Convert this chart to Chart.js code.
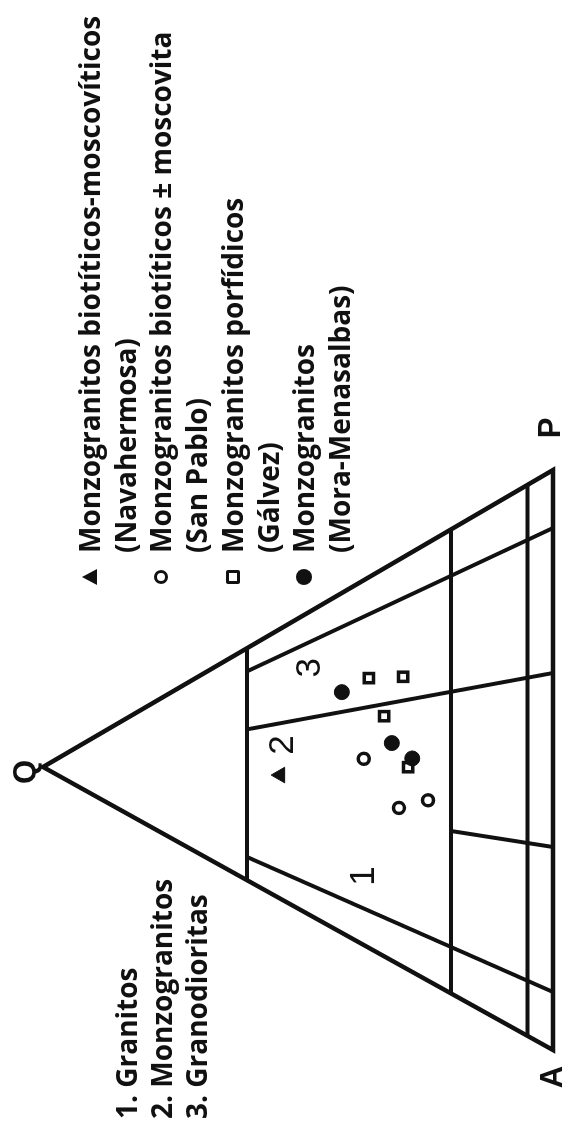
<!DOCTYPE html>
<html lang="es">
<head>
<meta charset="utf-8">
<title>Diagrama QAP</title>
<script src="https://cdn.jsdelivr.net/npm/chart.js@4.4.1/dist/chart.umd.min.js"></script>
<style>
    html, body {
        margin: 0;
        padding: 0;
        width: 568px;
        height: 1129px;
        overflow: hidden;
        background: #fff;
    }
    /* the diagram is laid out landscape and turned a quarter turn */
    #stage {
        position: absolute;
        left: 0;
        top: 0;
        width: 1129px;
        height: 568px;
        transform-origin: 0 0;
        transform: translateY(1129px) rotate(-90deg);
        color: #111;
        font-family: "Open Sans", "Noto Sans", sans-serif;
        font-weight: 700;
    }
    #qapChart {
        position: absolute;
        left: 0;
        top: 0;
    }
    .legend {
        position: absolute;
        left: 576px;
        top: 72px;
        font-size: 28px;
        line-height: 35.7px;
        white-space: nowrap;
    }
    .legend .entry {
        position: relative;
    }
    .legend .mark {
        position: absolute;
        box-sizing: border-box;
    }
    .mark.tri {
        left: -32px;
        top: 10px;
        width: 16px;
        height: 15px;
        background: #111;
        clip-path: polygon(50% 0, 100% 100%, 0 100%);
    }
    .mark.ring {
        left: -31px;
        top: 11px;
        width: 14px;
        height: 14px;
        border: 3.5px solid #111;
        border-radius: 50%;
    }
    .mark.box {
        left: -31px;
        top: 11px;
        width: 14px;
        height: 14px;
        border: 3.5px solid #111;
        border-radius: 2px;
    }
    .mark.dot {
        left: -32px;
        top: 10px;
        width: 16px;
        height: 16px;
        background: #111;
        border-radius: 50%;
    }
    .fields {
        position: absolute;
        left: 10px;
        top: 109px;
        font-size: 28px;
        line-height: 35px;
        white-space: nowrap;
    }
</style>
</head>
<body>
<div id="stage">
    <canvas id="qapChart" width="1129" height="568"></canvas>

    <div class="legend">
        <div class="entry"><span class="mark tri"></span>Monzogranitos biotíticos-moscovíticos<br>(Navahermosa)</div>
        <div class="entry"><span class="mark ring"></span>Monzogranitos biotíticos ± moscovita<br>(San Pablo)</div>
        <div class="entry"><span class="mark box"></span>Monzogranitos porfídicos<br>(Gálvez)</div>
        <div class="entry"><span class="mark dot"></span>Monzogranitos<br>(Mora-Menasalbas)</div>
    </div>

    <div class="fields">
        1. Granitos<br>
        2. Monzogranitos<br>
        3. Granodioritas
    </div>
</div>

<script>
// modal compositions, [Q, A, P] in %
const navahermosa = [[53.5, 25.2, 21.3]];
const sanPablo = [[37.1, 30.8, 32.1], [30.2, 42.8, 27.0], [24.5, 44.4, 31.1]];
const galvez = [[36.1, 17.4, 46.5], [29.4, 20.6, 50.0], [33.1, 25.5, 41.4], [28.4, 36.7, 34.9]];
const moraMenasalbas = [[41.4, 17.1, 41.5], [31.6, 30.9, 37.5], [27.6, 35.6, 36.8]];

// Streckeisen field boundaries
const qLevels = [60, 20, 5];             // Q % lines parallel to A-P
const apRatios = [10, 35, 65, 90];       // 100*P/(A+P) lines
const apRatioTop = [60, 20, 60, 60];     // Q % where each ratio line starts

// where the Q apex sits along the A-P base (0 = A, 100 = P)
const apexX = 48.8;

function toXY(qap) {
    const sum = qap[0] + qap[1] + qap[2];
    const q = qap[0] / sum * 100;
    const p = qap[2] / sum * 100;
    return { x: p + q * apexX / 100, y: q };
}

function ratioPoint(ratio, q) {
    const rest = 100 - q;
    return toXY([q, rest * (1 - ratio / 100), rest * ratio / 100]);
}

function lineSet(points, width) {
    return {
        type: 'scatter',
        data: points,
        showLine: true,
        borderColor: '#111',
        borderWidth: width,
        borderJoinStyle: 'miter',
        borderCapStyle: 'butt',
        pointRadius: 0,
        clip: false,
        order: 2
    };
}

const datasets = [];

datasets.push({
    label: 'Navahermosa',
    data: navahermosa.map(toXY),
    pointStyle: 'triangle',
    pointRadius: 9,
    backgroundColor: '#111',
    borderColor: '#111',
    borderWidth: 1,
    order: 0
});
datasets.push({
    label: 'San Pablo',
    data: sanPablo.map(toXY),
    pointStyle: 'circle',
    pointRadius: 5.5,
    backgroundColor: '#fff',
    borderColor: '#111',
    borderWidth: 3.5,
    order: 0
});
datasets.push({
    label: 'Gálvez',
    data: galvez.map(toXY),
    pointStyle: 'rect',
    pointRadius: 6.5,
    backgroundColor: '#fff',
    borderColor: '#111',
    borderWidth: 3.5,
    order: 1
});
datasets.push({
    label: 'Mora-Menasalbas',
    data: moraMenasalbas.map(toXY),
    pointStyle: 'circle',
    pointRadius: 7.5,
    backgroundColor: '#111',
    borderColor: '#111',
    borderWidth: 1,
    order: 0
});

// outer triangle A-P-Q
datasets.push(lineSet([[0, 100, 0], [0, 0, 100], [100, 0, 0], [0, 100, 0], [0, 0, 100]].map(toXY), 4.5));

qLevels.forEach(function (q) {
    datasets.push(lineSet([ratioPoint(0, q), ratioPoint(100, q)], 4));
});
apRatios.forEach(function (r, i) {
    datasets.push(lineSet([ratioPoint(r, apRatioTop[i]), ratioPoint(r, 0)], 4));
});

// vertex names and field numbers
const labelPlugin = {
    id: 'qapLabels',
    afterDatasetsDraw(chart) {
        const ctx = chart.ctx;
        const xs = chart.scales.x;
        const ys = chart.scales.y;
        const px = p => ({ x: xs.getPixelForValue(p.x), y: ys.getPixelForValue(p.y) });
        ctx.save();
        ctx.fillStyle = '#111';
        ctx.textAlign = 'center';
        ctx.textBaseline = 'middle';

        ctx.font = 'bold 31px "Liberation Sans", Arial, sans-serif';
        const q = px(toXY([100, 0, 0]));
        const a = px(toXY([0, 100, 0]));
        const p = px(toXY([0, 0, 100]));
        ctx.fillText('Q', q.x - 5, q.y - 17);
        ctx.fillText('A', a.x - 27, a.y);
        ctx.fillText('P', p.x + 42, p.y - 2);

        ctx.font = '35px "Liberation Sans", Arial, sans-serif';
        [['1', 30.0, 36.9], ['2', 52.6, 52.9], ['3', 65.9, 47.6]].forEach(function (f) {
            const pt = px({ x: f[1], y: f[2] });
            ctx.fillText(f[0], pt.x, pt.y);
        });
        ctx.restore();
    }
};

document.addEventListener('DOMContentLoaded', function () {
    const canvas = document.getElementById('qapChart');
    new Chart(canvas.getContext('2d'), {
        type: 'scatter',
        data: { datasets: datasets },
        options: {
            responsive: false,
            animation: false,
            events: [],
            layout: { padding: { left: 79, right: 470, top: 43, bottom: 15 } },
            scales: {
                x: { type: 'linear', min: 0, max: 100, display: false },
                y: { type: 'linear', min: 0, max: 100, display: false }
            },
            plugins: {
                legend: { display: false },
                tooltip: { enabled: false }
            }
        },
        plugins: [labelPlugin]
    });
});
</script>
</body>
</html>
